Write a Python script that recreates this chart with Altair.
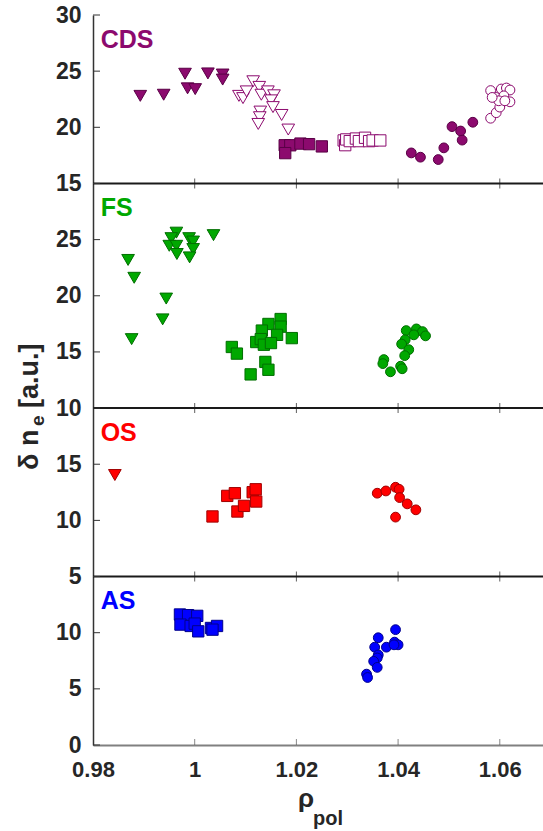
import altair as alt
import pandas as pd

# ---------------- data ----------------
panels = ["CDS", "FS", "OS", "AS"]
# offsets that stack the four panels on one vertical scale
panel_offset = {"AS": 0, "OS": 10, "FS": 20, "CDS": 35}
panel_top = {"AS": 15, "OS": 30, "FS": 50, "CDS": 65}
boundaries = [15, 30, 50]

# CDS
cds_tri_x = [0.9893, 0.9939, 0.9981, 0.9986, 1.0001, 1.0026, 1.0055, 1.0055]
cds_tri_y = [22.8, 22.9, 24.77, 23.47, 23.4, 24.8, 24.7, 24.25]
cds_tri_open_x = [1.0115, 1.0127, 1.0131, 1.0144, 1.0156, 1.0087, 1.0095, 1.0102,
                  1.0150, 1.0154, 1.0129, 1.0128, 1.0125, 1.0171, 1.0184]
cds_tri_open_y = [24.1, 23.6, 22.9, 23.2, 22.85, 22.8, 22.6, 23.2,
                  22.4, 21.8, 21.4, 20.9, 20.3, 21.1, 19.8]
cds_sq_x = [1.0177, 1.0188, 1.0178, 1.0208, 1.0225, 1.0250]
cds_sq_y = [18.4, 18.4, 17.7, 18.55, 18.5, 18.3]
cds_sq_open_x = [1.0293, 1.0296, 1.0298, 1.0305, 1.0317, 1.0323, 1.0335, 1.0343, 1.0350, 1.0365]
cds_sq_open_y = [18.83, 18.41, 18.92, 18.77, 19.0, 18.77, 19.07, 18.77, 18.83, 18.83]
cds_circ_x = [1.0426, 1.0444, 1.0479, 1.0490, 1.0506, 1.0523, 1.0526, 1.0547]
cds_circ_y = [17.72, 17.34, 17.13, 18.17, 20.06, 19.67, 18.86, 20.45]
cds_circ_open_x = [1.0582, 1.0582, 1.0593, 1.0593, 1.0603, 1.0613, 1.0620, 1.0620,
                   1.0600, 1.0608, 1.0598, 1.0585, 1.0610]
cds_circ_open_y = [23.27, 20.81, 21.3, 22.66, 23.41, 23.5, 23.32, 22.27,
                   21.8, 22.8, 22.36, 22.66, 22.36]

# FS
fs_tri_x = [0.9869, 0.9881, 0.9944, 0.9937, 0.9876, 0.9964, 0.9954, 0.9950,
            0.9964, 0.9965, 0.9989, 0.9997, 0.9997, 0.9990, 1.0037]
fs_tri_y = [23.19, 21.6, 19.75, 17.9, 16.14, 25.62, 25.13, 24.45,
            24.45, 23.72, 25.13, 24.83, 24.16, 23.42, 25.4]
fs_sq_x = [1.0169, 1.0169, 1.0145, 1.0132, 1.0162, 1.0191, 1.0121, 1.0130,
           1.0136, 1.0150, 1.0073, 1.0083, 1.0139, 1.0145, 1.0110]
fs_sq_y = [17.93, 17.25, 17.49, 16.9, 16.52, 16.23, 15.88, 16.14,
           15.64, 15.79, 15.44, 14.85, 14.11, 13.41, 13.0]
fs_circ_x = [1.0416, 1.0436, 1.0448, 1.0454, 1.0431, 1.0414, 1.0407, 1.0421,
             1.0413, 1.0372, 1.0370, 1.0405, 1.0408, 1.0385]
fs_circ_y = [16.9, 17.05, 16.81, 16.43, 16.52, 16.08, 15.7, 15.2,
             14.67, 14.32, 13.96, 13.73, 13.5, 13.23]

# OS
os_tri_x = [0.9843]
os_tri_y = [14.04]
os_sq_x = [1.0035, 1.0064, 1.0079, 1.0084, 1.0097, 1.0114, 1.0120, 1.0121]
os_sq_y = [10.35, 12.18, 12.42, 10.79, 11.29, 12.51, 12.77, 11.68]
os_circ_x = [1.0359, 1.0376, 1.0395, 1.0402, 1.0403, 1.0418, 1.0435, 1.0395]
os_circ_y = [12.42, 12.62, 12.95, 12.77, 12.03, 11.47, 10.94, 10.29]

# AS
as_sq_x = [0.9971, 0.9987, 1.0005, 0.9972, 0.9992, 1.0000, 1.0007, 1.0032, 1.0044, 1.0035]
as_sq_y = [11.62, 11.56, 11.5, 10.72, 10.6, 10.81, 10.12, 10.42, 10.6, 10.27]
as_circ_x = [1.0395, 1.0361, 1.0393, 1.0400, 1.0377, 1.0354, 1.0361, 1.0359,
             1.0352, 1.0359, 1.0338, 1.0340, 1.0392]
as_circ_y = [10.27, 9.55, 9.16, 8.92, 8.71, 8.71, 8.02, 7.75,
             7.45, 6.91, 6.31, 6.01, 8.92]

x_ticks = [0.98, 1.0, 1.02, 1.04, 1.06]
y_tick_positions = list(range(0, 70, 5))

groups = [
    ("CDS", "tri", True, cds_tri_x, cds_tri_y),
    ("CDS", "tri", False, cds_tri_open_x, cds_tri_open_y),
    ("CDS", "sq", True, cds_sq_x, cds_sq_y),
    ("CDS", "sq", False, cds_sq_open_x, cds_sq_open_y),
    ("CDS", "circ", True, cds_circ_x, cds_circ_y),
    ("CDS", "circ", False, cds_circ_open_x, cds_circ_open_y),
    ("FS", "tri", True, fs_tri_x, fs_tri_y),
    ("FS", "sq", True, fs_sq_x, fs_sq_y),
    ("FS", "circ", True, fs_circ_x, fs_circ_y),
    ("OS", "tri", True, os_tri_x, os_tri_y),
    ("OS", "sq", True, os_sq_x, os_sq_y),
    ("OS", "circ", True, os_circ_x, os_circ_y),
    ("AS", "sq", True, as_sq_x, as_sq_y),
    ("AS", "circ", True, as_circ_x, as_circ_y),
]

rows = []
for panel, marker, filled, xs, ys in groups:
    for xv, yv in zip(xs, ys):
        rows.append({
            "panel": panel, "marker": marker, "x": xv, "v": yv,
            "g": yv + panel_offset[panel],
            "fillkey": panel if filled else "open",
            "strokekey": panel if filled else panel + "-open",
        })
df = pd.DataFrame(rows)

labels_df = pd.DataFrame({
    "panel": panels,
    "x": [0.9815] * 4,
    "g": [panel_top[p] - 2.2 for p in panels],
})
bound_df = pd.DataFrame({"g": boundaries})
xt_bound_df = pd.DataFrame([{"x": xv, "g": b} for b in boundaries for xv in x_ticks[1:]])
xt_bottom_df = pd.DataFrame({"x": x_ticks[1:], "g": [0] * 4})
yt_df = pd.DataFrame({"g": y_tick_positions})

# ---------------- styling ----------------
FONT = "Liberation Sans"
fill_colors = {"CDS": "#8c0a6e", "FS": "#00a800", "OS": "#ff0000", "AS": "#0000ff", "open": "#ffffff"}
stroke_colors = {"CDS": "#5a0046", "FS": "#006e00", "OS": "#a00000", "AS": "#00008b",
                 "CDS-open": "#8c0a6e"}

xscale = alt.Scale(domain=[0.98, 1.0685], nice=False, zero=False)
yscale = alt.Scale(domain=[0, 65], nice=False, zero=False)

xaxis = alt.Axis(values=x_ticks, format=".2~f", ticks=False, tickSize=0, grid=False,
                 domainColor="#808080", domainWidth=2, labelFont=FONT, labelFontSize=22,
                 labelFontWeight="bold", labelColor="#262626", labelPadding=14,
                 labelFlush=False, labelOverlap=False, title=None)
yaxis = alt.Axis(values=y_tick_positions,
                 labelExpr="'' + (datum.value <= 10 ? datum.value : datum.value <= 25 ? datum.value - 10 : datum.value <= 45 ? datum.value - 20 : datum.value - 35)",
                 ticks=False, tickSize=0, grid=False, domainColor="#333333", domainWidth=1.5,
                 labelFont=FONT, labelFontSize=23, labelFontWeight="bold", labelColor="#262626",
                 labelPadding=12, labelFlush=False, labelOverlap=False, labelBound=False, title=None)

X = alt.X("x:Q", scale=xscale, axis=xaxis)
Y = alt.Y("g:Q", scale=yscale, axis=yaxis)

points = alt.Chart(df).mark_point(filled=True, opacity=1, strokeWidth=1).encode(
    x=X, y=Y,
    shape=alt.Shape("marker:N", scale=alt.Scale(domain=["tri", "sq", "circ"],
                                                range=["triangle-down", "square", "circle"]), legend=None),
    size=alt.Size("marker:N", scale=alt.Scale(domain=["tri", "sq", "circ"], range=[160, 96, 105]), legend=None),
    fill=alt.Fill("fillkey:N", scale=alt.Scale(domain=list(fill_colors), range=list(fill_colors.values())), legend=None),
    stroke=alt.Stroke("strokekey:N", scale=alt.Scale(domain=list(stroke_colors), range=list(stroke_colors.values())), legend=None),
)

bounds = alt.Chart(bound_df).mark_rule(color="#1a1a1a", strokeWidth=2).encode(y=Y)

xt_b = alt.Chart(xt_bound_df).mark_tick(orient="vertical", size=10, thickness=1, color="#1a1a1a").encode(x=X, y=Y)
xt_0 = alt.Chart(xt_bottom_df).mark_tick(orient="vertical", size=6, thickness=1, color="#555555", yOffset=-3).encode(x=X, y=Y)
yt = alt.Chart(yt_df).mark_rule(color="#333333", strokeWidth=1).encode(
    x=alt.value(0), x2=alt.value(7), y=Y)

plabels = alt.Chart(labels_df).mark_text(align="left", baseline="middle", font=FONT,
                                         fontSize=25, fontWeight="bold").encode(
    x=X, y=Y,
    color=alt.Color("panel:N", scale=alt.Scale(domain=panels,
                                               range=[fill_colors[p] for p in panels]), legend=None),
    text="panel:N",
)

title_color = "#262626"
yt1 = alt.Chart(pd.DataFrame({"t": ["δ n"]})).mark_text(
    angle=270, align="left", baseline="middle", font=FONT, fontSize=27, fontWeight="bold",
    color=title_color).encode(x=alt.value(-63), y=alt.value(455), text="t:N")
yt2 = alt.Chart(pd.DataFrame({"t": ["e"]})).mark_text(
    angle=270, align="left", baseline="middle", font=FONT, fontSize=19, fontWeight="bold",
    color=title_color).encode(x=alt.value(-55), y=alt.value(411), text="t:N")
yt3 = alt.Chart(pd.DataFrame({"t": ["[a.u.]"]})).mark_text(
    angle=270, align="left", baseline="middle", font=FONT, fontSize=27, fontWeight="bold",
    color=title_color).encode(x=alt.value(-63), y=alt.value(393), text="t:N")
xt1 = alt.Chart(pd.DataFrame({"t": ["ρ"]})).mark_text(
    align="left", baseline="alphabetic", font=FONT, fontSize=26, fontWeight="bold",
    color=title_color).encode(x=alt.value(205), y=alt.value(792), text="t:N")
xt2 = alt.Chart(pd.DataFrame({"t": ["pol"]})).mark_text(
    align="left", baseline="alphabetic", font=FONT, fontSize=20, fontWeight="bold",
    color=title_color).encode(x=alt.value(220), y=alt.value(810), text="t:N")

chart = alt.layer(bounds, xt_b, xt_0, yt, points, plabels, yt1, yt2, yt3, xt1, xt2).properties(
    width=450, height=730,
    autosize=alt.AutoSizeParams(type="none"),
    padding={"left": 93, "top": 15, "right": 0, "bottom": 86},
    background="white",
).configure_view(stroke=None)

chart.save("out.html", embed_options={"renderer": "svg", "actions": False})
